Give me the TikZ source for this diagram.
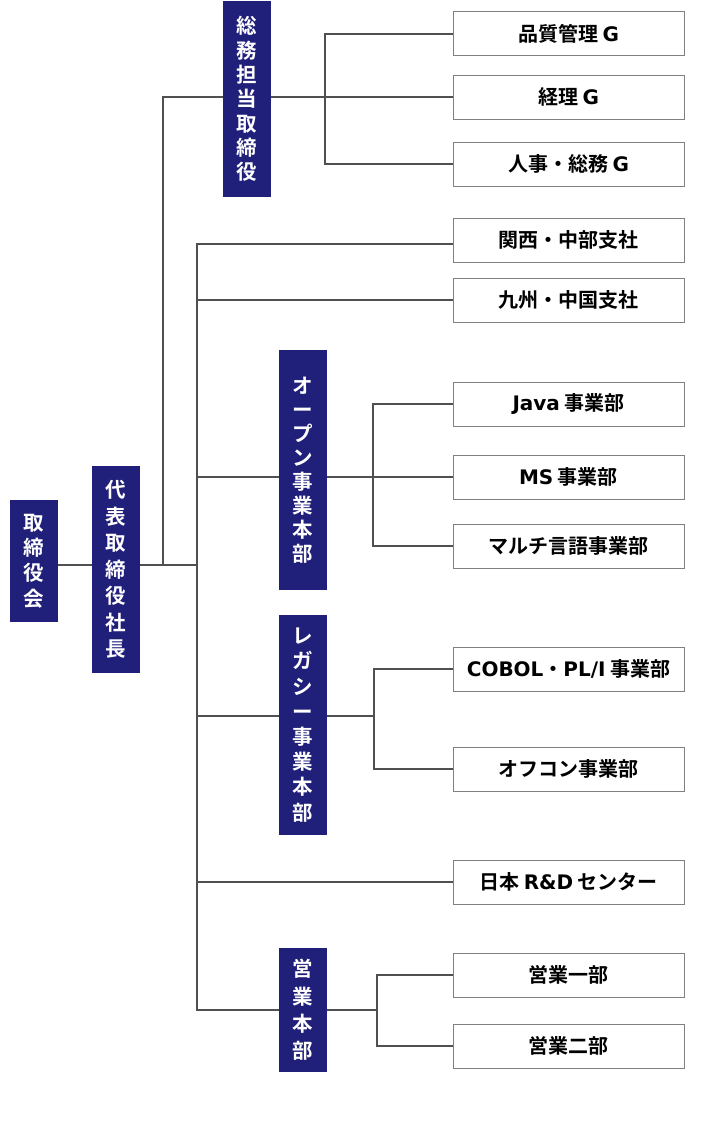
\documentclass[tikz,border=0pt]{standalone}
\usepackage{fontspec}
\setmainfont{Noto Sans CJK JP}[BoldFont={* Bold}]
\newfontfamily\lat{DejaVu Sans}[BoldFont={* Bold}]
\definecolor{navyc}{HTML}{201F79}
\definecolor{boxc}{HTML}{808080}
\definecolor{linec}{HTML}{505050}
\begin{document}
\begin{tikzpicture}[x=1pt,y=-1pt,
  navy/.style={fill=navyc, draw=none, text=white, minimum width=48pt, inner sep=0pt, align=center},
  unit/.style={draw=boxc, line width=1pt, fill=white, minimum width=231pt, minimum height=44pt, inner sep=0pt, font=\bfseries\fontsize{20}{22}\selectfont},
  conn/.style={draw=linec, line width=1.1pt}]
\useasboundingbox[fill=white] (0,0) rectangle (703,1140);

% blue boxes
\node[navy, minimum height=122pt, font=\bfseries\fontsize{20.5}{25.3}\selectfont] (board) at (33.5,561) {取\\締\\役\\会};
\node[navy, minimum height=207pt, font=\bfseries\fontsize{20.5}{26.5}\selectfont] (pres) at (116,569.5) {代\\表\\取\\締\\役\\社\\長};
\node[navy, minimum height=196pt, font=\bfseries\fontsize{20.5}{24.3}\selectfont] (gm) at (247,99) {総\\務\\担\\当\\取\\締\\役};
\node[navy, minimum height=240pt, font=\bfseries\fontsize{20.5}{24}\selectfont] (open) at (303,470) {オ\\ー\\プ\\ン\\事\\業\\本\\部};
\node[navy, minimum height=220pt, font=\bfseries\fontsize{20.5}{25.2}\selectfont] (legacy) at (303,725) {レ\\ガ\\シ\\ー\\事\\業\\本\\部};
\node[navy, minimum height=124pt, font=\bfseries\fontsize{20.5}{27.3}\selectfont] (sales) at (303,1010) {営\\業\\本\\部};

% white boxes
\node[unit] (hin) at (568.5,34) {品質管理 {\lat G}};
\node[unit] (kei) at (568.5,97) {経理 {\lat G}};
\node[unit] (jin) at (568.5,164) {人事・総務 {\lat G}};
\node[unit] (kan) at (568.5,240) {関西・中部支社};
\node[unit] (kyu) at (568.5,300) {九州・中国支社};
\node[unit] (java) at (568.5,404) {{\lat Java} 事業部};
\node[unit] (ms) at (568.5,477) {{\lat MS} 事業部};
\node[unit] (multi) at (568.5,546) {マルチ言語事業部};
\node[unit] (cobol) at (568.5,669) {{\lat COBOL}・{\lat PL/I} 事業部};
\node[unit] (off) at (568.5,769) {オフコン事業部};
\node[unit] (rd) at (568.5,882) {日本 {\lat R\&D} センター};
\node[unit] (ei1) at (568.5,975) {営業一部};
\node[unit] (ei2) at (568.5,1046) {営業二部};

% junction coordinates
\coordinate (j1) at (163,565);
\coordinate (j2) at (197,565);
\coordinate (b1) at (325,0);
\coordinate (b2) at (373,0);
\coordinate (b3) at (374,0);
\coordinate (b4) at (377,0);
\coordinate (ykan) at (0,244);
\coordinate (yleg) at (0,716);

% connectors
\draw[conn] (board.east |- j1) -- (pres.west |- j1);
\draw[conn] (pres.east |- j1) -- (j2);
\draw[conn] (j1) |- (gm.west |- kei.west);
\draw[conn] (gm.east |- kei.west) -- (kei.west);
\draw[conn] (hin.west) -- (hin.west -| b1) -- (jin.west -| b1) -- (jin.west);

\draw[conn] (kan.west |- ykan) -- (j2 |- ykan) -- (j2 |- sales.west) -- (sales.west);
\draw[conn] (j2 |- kyu.west) -- (kyu.west);
\draw[conn] (j2 |- ms.west) -- (open.west |- ms.west);
\draw[conn] (open.east |- ms.west) -- (ms.west);
\draw[conn] (java.west) -- (java.west -| b2) -- (multi.west -| b2) -- (multi.west);

\draw[conn] (j2 |- yleg) -- (legacy.west |- yleg);
\draw[conn] (legacy.east |- yleg) -- (b3 |- yleg);
\draw[conn] (cobol.west) -- (cobol.west -| b3) -- (off.west -| b3) -- (off.west);

\draw[conn] (j2 |- rd.west) -- (rd.west);

\draw[conn] (sales.east) -- (b4 |- sales.east);
\draw[conn] (ei1.west) -- (ei1.west -| b4) -- (ei2.west -| b4) -- (ei2.west);
\end{tikzpicture}
\end{document}
